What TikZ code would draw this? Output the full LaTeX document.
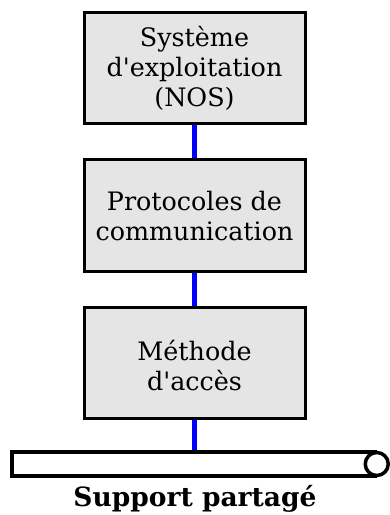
\documentclass[tikz,border=0pt]{standalone}
\usepackage{fontspec}
\setmainfont{DejaVu Serif}[Ligatures=TeXOff]
\begin{document}
\begin{tikzpicture}[x=1pt,y=-1pt,
  layerbox/.style={draw=black,line width=3pt,fill=black!10,minimum width=221pt,inner sep=0pt},
  layertext/.style={align=center,inner sep=0pt,font=\fontsize{25.4}{30}\selectfont},
  link/.style={draw=blue,line width=4.5pt},
  busbar/.style={draw=black,line width=3.5pt,fill=white}]
\useasboundingbox (0,0) rectangle (390,515);
\node[layerbox,minimum height=111pt] (b1) at (194.5,67.5) {};
\node[layerbox,minimum height=112pt] (b2) at (194.5,215) {};
\node[layerbox,minimum height=111pt] (b3) at (194.5,362.5) {};
\node[layertext] (t1) at (194.5,70.5) {\strut Système\\d'exploitation\\(NOS)\strut};
\node[layertext] (t2) at (194.5,219) {\strut Protocoles de\\communication\strut};
\node[layertext] (t3) at (194.5,369) {\strut Méthode\\d'accès\strut};
\node[busbar,minimum width=363pt,minimum height=24pt,inner sep=0pt] (bus) at (193.5,464) {};
\node[busbar,circle,minimum size=23pt,inner sep=0pt] (busend) at (bus.east) {};
\node[anchor=base,inner sep=0pt,font=\fontsize{26.5}{30}\bfseries\selectfont] (lbl) at (195,506) {Support partagé};
\draw[link] (b1.south) -- (b2.north);
\draw[link] (b2.south) -- (b3.north);
\draw[link] (b3.south) -- (b3.south |- bus.north);
\end{tikzpicture}
\end{document}
